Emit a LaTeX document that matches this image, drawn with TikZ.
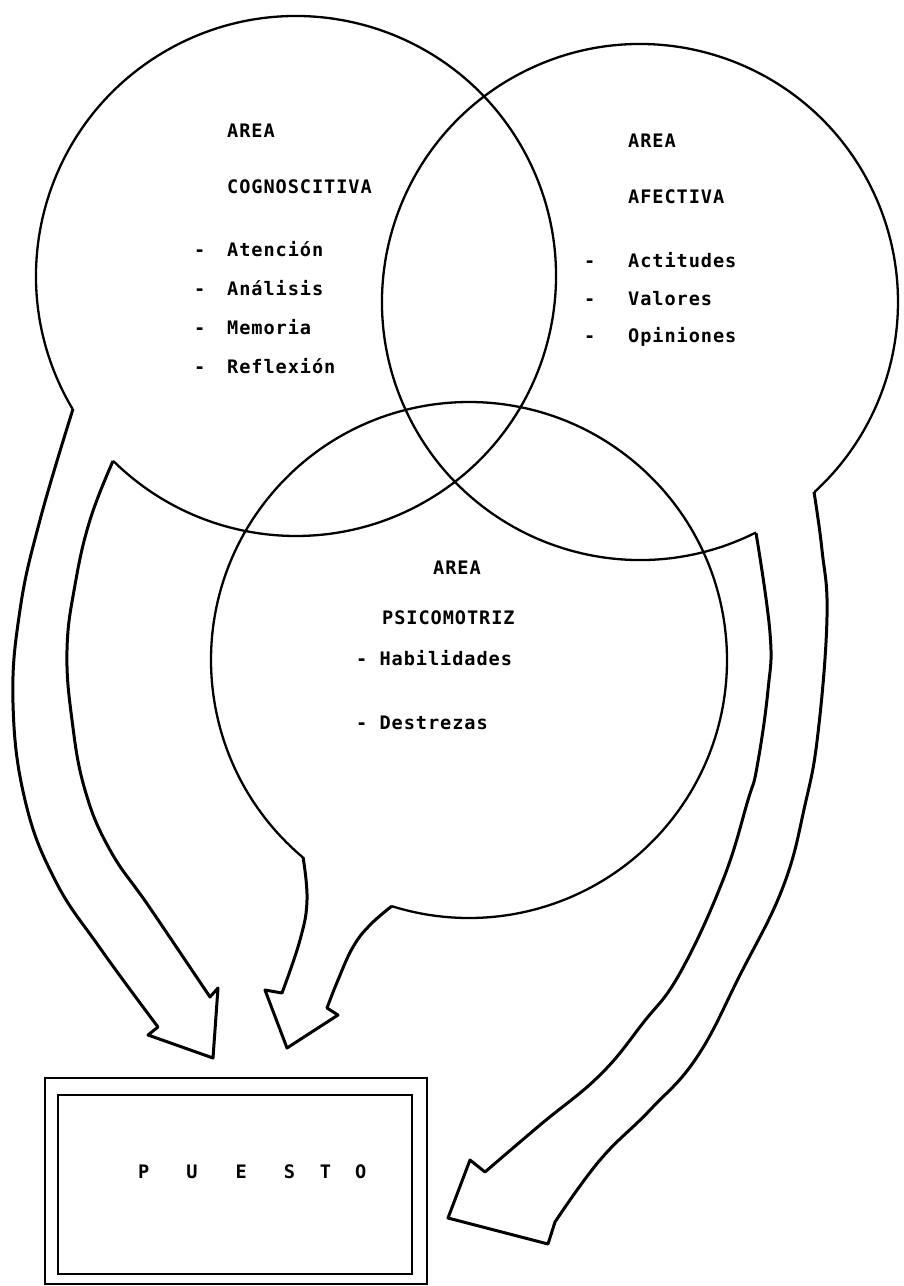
\documentclass[tikz,border=0pt]{standalone}
\usepackage{fontspec}
\newfontfamily\typefont[LetterSpace=5]{DejaVu Sans Mono Bold}
\usetikzlibrary{positioning}

\begin{document}
\begin{tikzpicture}[x=1pt,y=-1pt,
  lbl/.style={anchor=west,inner sep=0pt,font={\typefont\fontsize{18.6}{20}\selectfont}},
  venn/.style={line width=2.3pt},
  blockarrow/.style={line width=3pt,line join=round},
  frame/.style={line width=2.8pt}]
\useasboundingbox (0,0) rectangle (904,1286);

\coordinate (cog) at (296,276);
\coordinate (afe) at (640,302);
\coordinate (psi) at (469,660);

% the three areas, each left open where its arrow leaves
\draw[venn] (cog) ++(149.2:260) arc[start angle=149.2,end angle=494.7,radius=260];
\draw[venn] (afe) ++(63.3:258) arc[start angle=63.3,end angle=407.5,radius=258];
\draw[venn] (psi) ++(130.1:258) arc[start angle=130.1,end angle=467.4,radius=258];

% block arrows down to the box
\draw[blockarrow] plot[smooth,tension=0.7] coordinates {(113,461) (90,520) (75,585) (67,650) (72,720) (85,790) (110,850) (150,908) (210,997)}
  -- (218,988) -- (213,1058) -- (148,1035) -- (158,1027)
  -- plot[smooth,tension=0.7] coordinates {(158,1027) (100,948) (55,880) (25,800) (13,703) (20,610) (40,520) (73,409)};
\draw[blockarrow] plot[smooth,tension=0.7] coordinates {(392,906) (370,925) (353,947) (338,980) (327,1008)}
  -- (338,1015) -- (287,1048) -- (265,990) -- (282,993)
  -- plot[smooth,tension=0.7] coordinates {(282,993) (300,940) (307,900) (303,857)};
\draw[blockarrow] plot[smooth,tension=0.7] coordinates {(814,492) (822,550) (827,617) (818,733) (805,805) (783,887) (740,975) (697,1057) (650,1110) (600,1160) (555,1222)}
  -- (548,1244) -- (448,1218) -- (470,1160) -- (485,1172)
  -- plot[smooth,tension=0.7] coordinates {(485,1172) (540,1125) (600,1075) (643,1023) (680,973) (723,880) (748,800) (757,767) (768,690) (770,633) (756,533)};

% box
\draw[frame] (45,1078) rectangle (427,1284);
\draw[frame] (58,1095) rectangle (412,1274);
\node[lbl] (puesto) at (138,1172) {P\hspace{37pt}U\hspace{38pt}E\hspace{37pt}S\hspace{25pt}T\hspace{24pt}O};

% texts
\node[lbl] (cogA) at (227,131) {AREA};
\node[lbl] (cogB) at (227,187) {COGNOSCITIVA};
\node[lbl] (cog1) at (227,249) {\llap{-\hspace{22pt}}Atención};
\node[lbl,below=39pt of cog1.west,anchor=west] (cog2) {\llap{-\hspace{22pt}}Análisis};
\node[lbl,below=39pt of cog2.west,anchor=west] (cog3) {\llap{-\hspace{22pt}}Memoria};
\node[lbl,below=39pt of cog3.west,anchor=west] (cog4) {\llap{-\hspace{22pt}}Reflexión};

\node[lbl] (afeA) at (628,141) {AREA};
\node[lbl] (afeB) at (628,197) {AFECTIVA};
\node[lbl] (afe1) at (628,260) {\llap{-\hspace{33pt}}Actitudes};
\node[lbl,below=38.5pt of afe1.west,anchor=west] (afe2) {\llap{-\hspace{33pt}}Valores};
\node[lbl,below=38.5pt of afe2.west,anchor=west] (afe3) {\llap{-\hspace{33pt}}Opiniones};

\node[lbl] (psiA) at (433,568) {AREA};
\node[lbl] (psiB) at (382,618) {PSICOMOTRIZ};
\node[lbl] (psi1) at (356,658) {- Habilidades};
\node[lbl,below=65pt of psi1.west,anchor=west] (psi2) {- Destrezas};
\end{tikzpicture}
\end{document}
